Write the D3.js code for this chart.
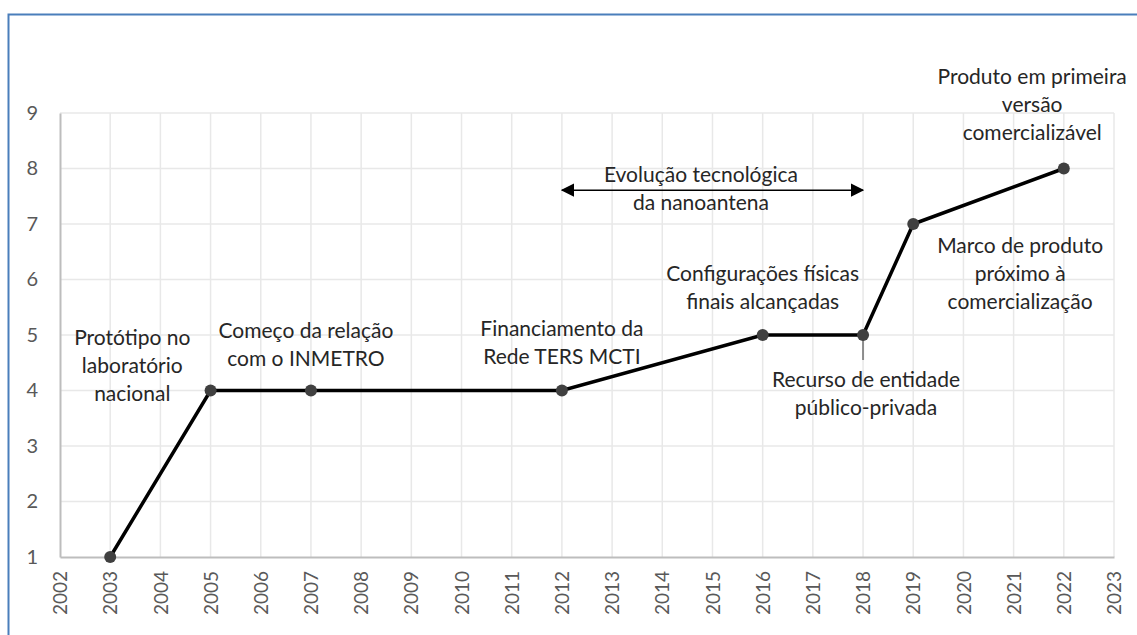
<!DOCTYPE html>
<html>
<head>
<meta charset="utf-8">
<script src="https://cdn.jsdelivr.net/npm/d3@7"></script>
<style>
  body { margin: 0; background: #fff; }
  svg { display: block; }
</style>
</head>
<body>
<svg id="chart" width="1137" height="635"></svg>
<script>
// data
var years = [2003, 2005, 2007, 2012, 2016, 2018, 2019, 2022];
var levels = [1, 4, 4, 4, 5, 5, 7, 8];
var yearTicks = d3.range(2002, 2024);
var levelTicks = [1, 2, 3, 4, 5, 6, 7, 8, 9];

// annotations: anchor year/level (first baseline) + text lines
var notes = [
  { year: 2003.44, level: 4.82, lines: ["Protótipo no", "laboratório", "nacional"] },
  { year: 2006.9, level: 4.95, lines: ["Começo da relação", "com o INMETRO"] },
  { year: 2012.0, level: 4.98, lines: ["Financiamento da", "Rede TERS MCTI"] },
  { year: 2016.0, level: 5.97, lines: ["Configurações físicas", "finais alcançadas"] },
  { year: 2018.06, level: 4.06, lines: ["Recurso de entidade", "público-privada"] },
  { year: 2014.77, level: 7.76, lines: ["Evolução tecnológica", "da nanoantena"] },
  { year: 2021.13, level: 6.48, lines: ["Marco de produto", "próximo à", "comercialização"] },
  { year: 2021.37, level: 9.52, lines: ["Produto em primeira", "versão", "comercializável"] }
];
var arrowSpan = [2012, 2018, 7.61];

var svg = d3.select("#chart");
var plotL = 60, plotR = 1114, plotT = 113, plotB = 557;

var x = d3.scaleLinear().domain([2002, 2023]).range([plotL, plotR]);
var y = d3.scaleLinear().domain([1, 9]).range([plotB, plotT]);

// outer frame
svg.append("rect")
  .attr("x", 8.5).attr("y", 14.5)
  .attr("width", 1140).attr("height", 640)
  .attr("fill", "none")
  .attr("stroke", "#4a7ebb")
  .attr("stroke-width", 2);

// grid
var grid = svg.append("g");
grid.selectAll(".gx").data(yearTicks.slice(1))
  .enter().append("line")
  .attr("x1", d => x(d)).attr("x2", d => x(d))
  .attr("y1", plotT).attr("y2", plotB)
  .attr("stroke", "#e8e8e8").attr("stroke-width", 1.5);
grid.selectAll(".gy").data(levelTicks.slice(1))
  .enter().append("line")
  .attr("x1", plotL).attr("x2", plotR)
  .attr("y1", d => y(d)).attr("y2", d => y(d))
  .attr("stroke", "#e8e8e8").attr("stroke-width", 1.5);

// axes
var xAxis = svg.append("g")
  .attr("transform", "translate(0," + plotB + ")")
  .call(d3.axisBottom(x).tickValues(yearTicks).tickFormat(d3.format("d")).tickSize(0));
xAxis.select(".domain").attr("stroke", "#bdbdbd").attr("stroke-width", 2);
xAxis.selectAll("text")
  .attr("transform", "rotate(-90)")
  .attr("text-anchor", "end")
  .attr("x", -14).attr("y", 0).attr("dy", "0.35em")
  .attr("fill", "#595959")
  .style("font-family", "Lato, 'Open Sans', sans-serif")
  .style("font-size", "19px");

var yAxis = svg.append("g")
  .attr("transform", "translate(" + plotL + ",0)")
  .call(d3.axisLeft(y).tickValues(levelTicks).tickSize(0));
yAxis.select(".domain").attr("stroke", "#bdbdbd").attr("stroke-width", 2);
yAxis.selectAll("text")
  .attr("x", -22)
  .attr("fill", "#595959")
  .style("font-family", "Lato, 'Open Sans', sans-serif")
  .style("font-size", "20px");

// leader line for the 2018 point
svg.append("line")
  .attr("x1", x(2018)).attr("x2", x(2018))
  .attr("y1", y(5)).attr("y2", y(4.55))
  .attr("stroke", "#8c8c8c").attr("stroke-width", 2);

// series
var pts = years.map((d, i) => [d, levels[i]]);
svg.append("path")
  .datum(pts)
  .attr("fill", "none")
  .attr("stroke", "#000")
  .attr("stroke-width", 3.5)
  .attr("d", d3.line().x(d => x(d[0])).y(d => y(d[1])));

svg.selectAll(".pt").data(pts)
  .enter().append("circle")
  .attr("cx", d => x(d[0])).attr("cy", d => y(d[1]))
  .attr("r", 6)
  .attr("fill", "#404040");

// arrow
var defs = svg.append("defs");
defs.append("marker").attr("id", "head")
  .attr("viewBox", "0 0 10 10").attr("refX", 9).attr("refY", 5)
  .attr("markerWidth", 9).attr("markerHeight", 9)
  .attr("orient", "auto-start-reverse")
  .append("path").attr("d", "M0,0 L10,5 L0,10 z").attr("fill", "#000");
svg.append("line")
  .attr("x1", x(arrowSpan[0])).attr("x2", x(arrowSpan[1]))
  .attr("y1", y(arrowSpan[2])).attr("y2", y(arrowSpan[2]))
  .attr("stroke", "#000").attr("stroke-width", 1.5)
  .attr("marker-start", "url(#head)")
  .attr("marker-end", "url(#head)");

// annotation texts
notes.forEach(function (n) {
  var t = svg.append("text")
    .attr("text-anchor", "middle")
    .attr("fill", "#262626")
    .style("font-family", "Lato, 'Open Sans', sans-serif")
    .style("font-size", "21px");
  n.lines.forEach(function (l, i) {
    t.append("tspan")
      .attr("x", x(n.year))
      .attr("y", y(n.level) + i * 28)
      .text(l);
  });
});
</script>
</body>
</html>
